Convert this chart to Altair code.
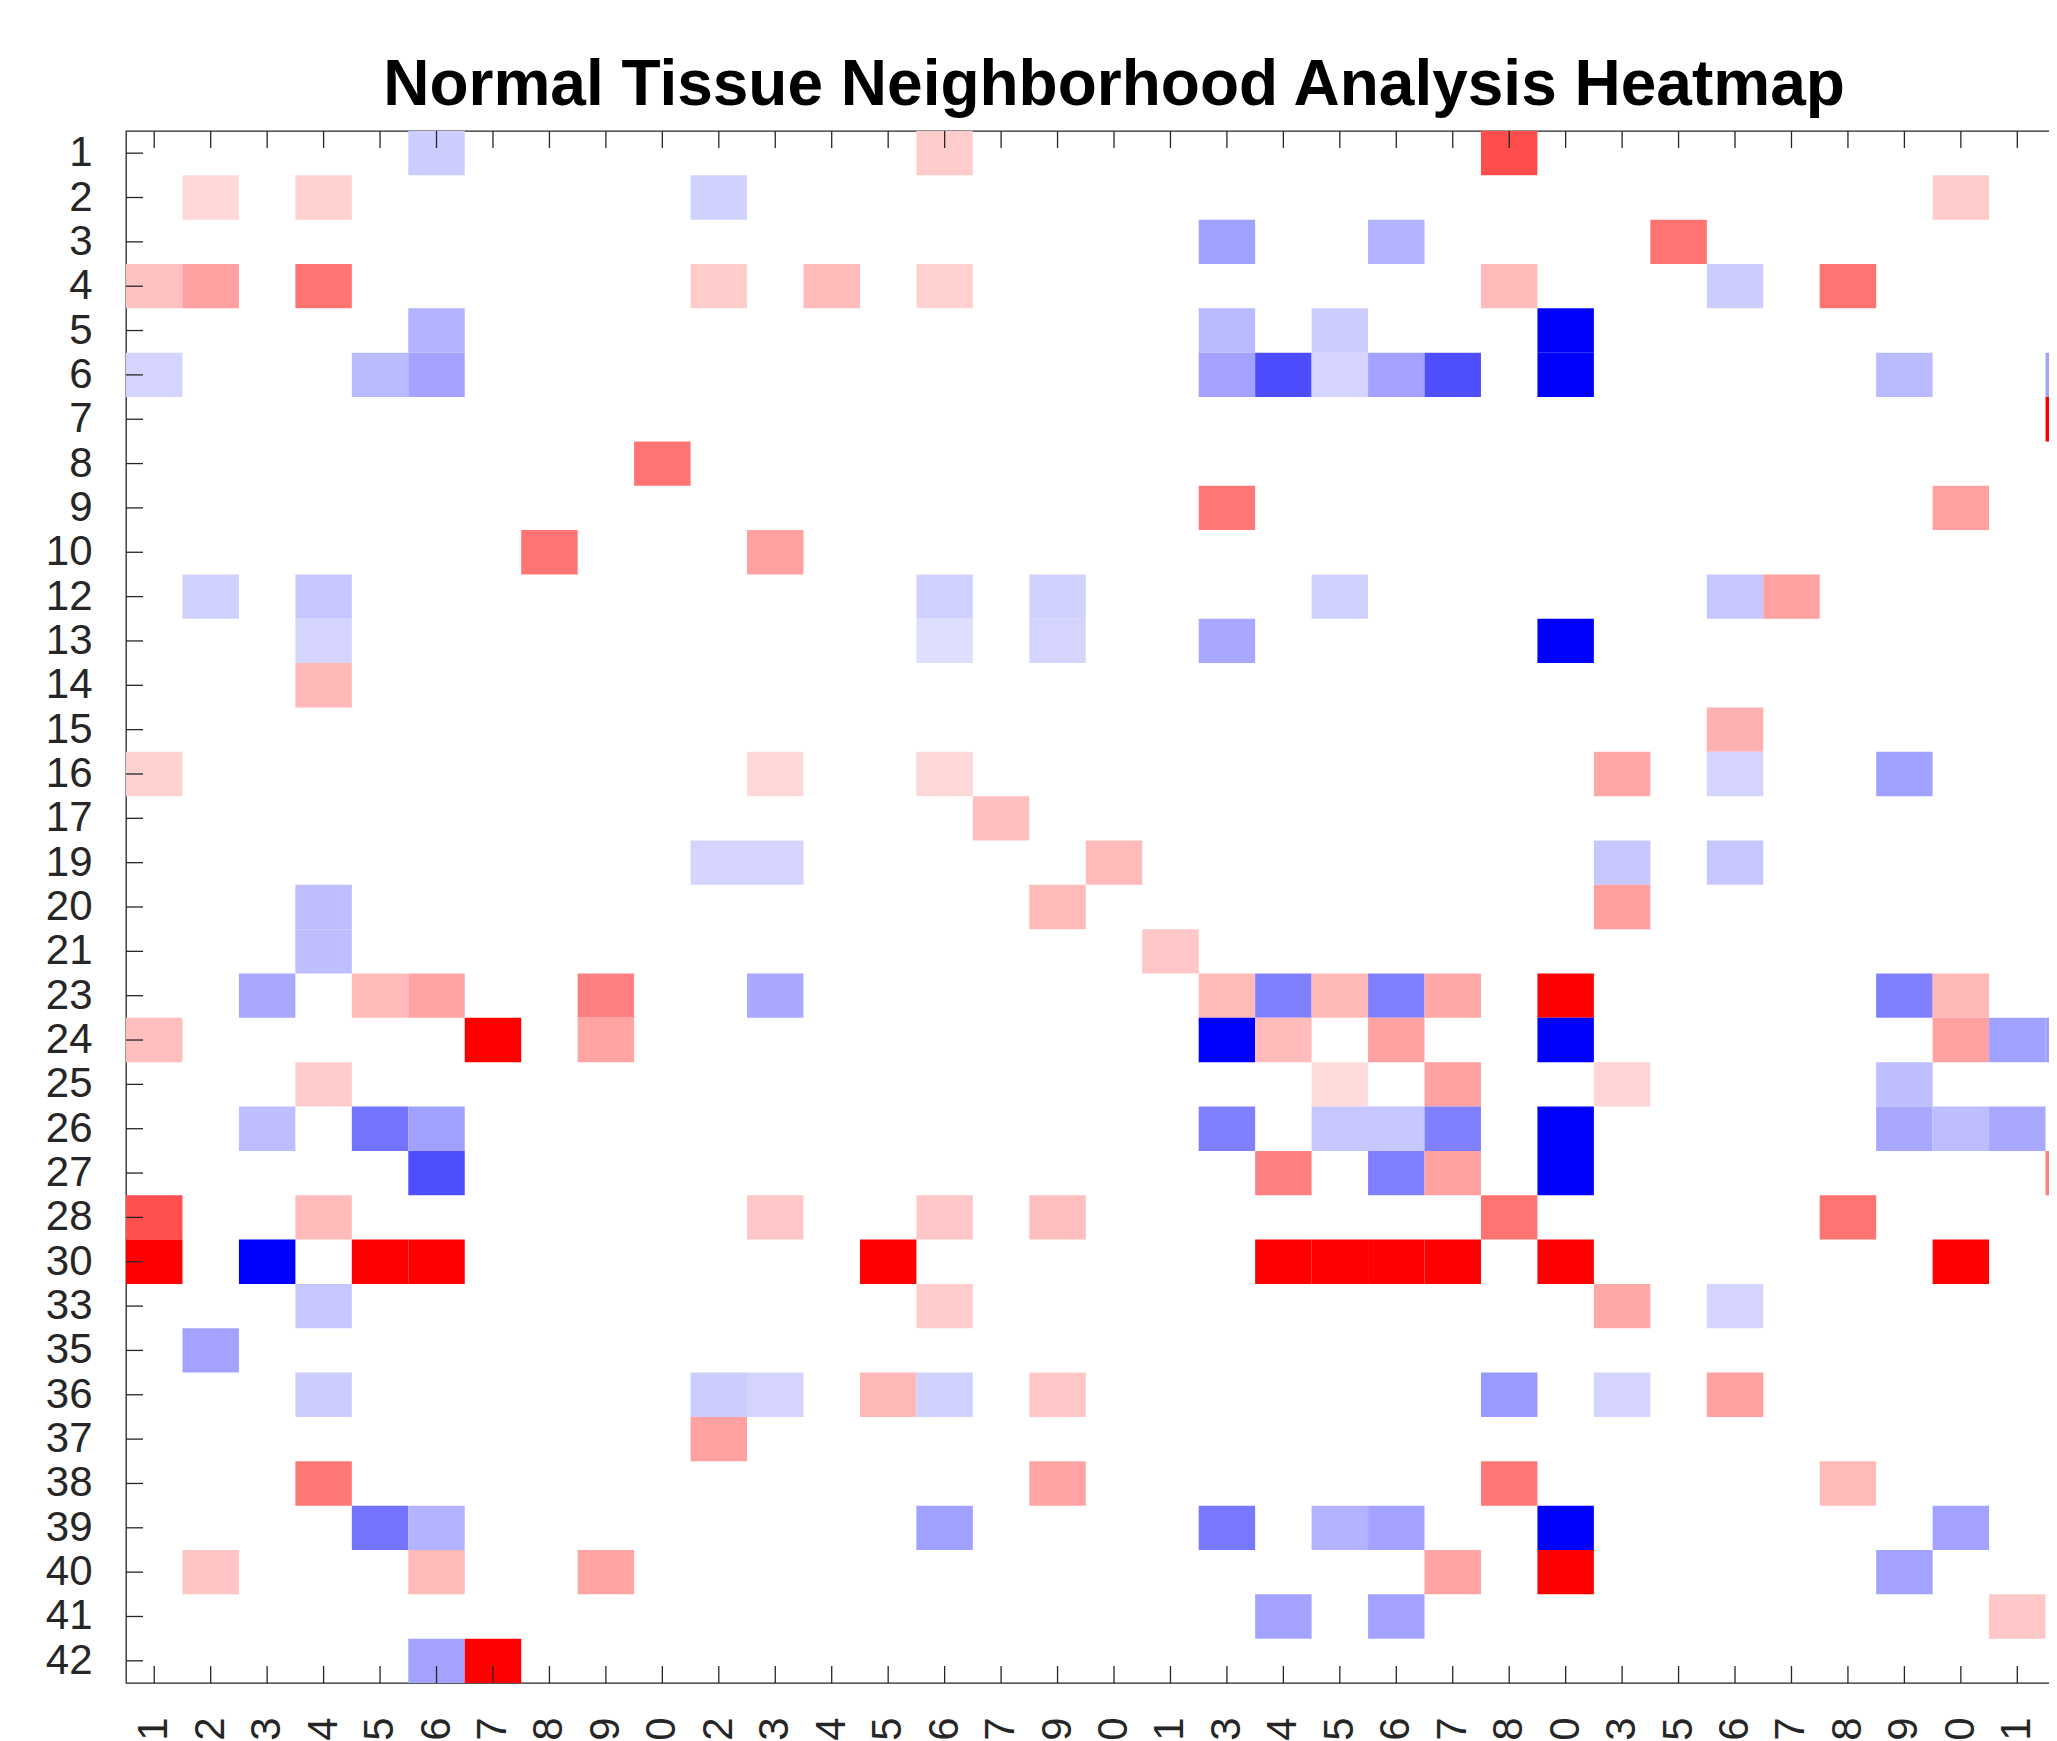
import altair as alt
import pandas as pd

# Category labels (rows top->bottom, columns left->right)
row_labels = ["1", "2", "3", "4", "5", "6", "7", "8", "9", "10", "12", "13", "14", "15",
              "16", "17", "19", "20", "21", "23", "24", "25", "26", "27", "28", "30",
              "33", "35", "36", "37", "38", "39", "40", "41", "42"]
col_labels = list(row_labels)

# Non-zero cells: row label, column label, value (blue < 0 < red)
cell_rows = (["1"] * 3 + ["2"] * 4 + ["3"] * 3 + ["4"] * 9 + ["5"] * 4 + ["6"] * 11 +
             ["7"] + ["8"] + ["9"] * 2 + ["10"] * 2 + ["12"] * 7 + ["13"] * 5 + ["14"] +
             ["15"] + ["16"] * 6 + ["17"] + ["19"] * 5 + ["20"] * 3 + ["21"] * 2 +
             ["23"] * 13 + ["24"] * 10 + ["25"] * 5 + ["26"] * 11 + ["27"] * 6 +
             ["28"] * 7 + ["30"] * 11 + ["33"] * 4 + ["35"] + ["36"] * 9 + ["37"] +
             ["38"] * 4 + ["39"] * 8 + ["40"] * 6 + ["41"] * 3 + ["42"] * 2)

cell_cols = [
    "6", "16", "28",
    "2", "4", "12", "40",
    "23", "26", "35",
    "1", "2", "4", "12", "14", "16", "28", "36", "38",
    "6", "23", "25", "30",
    "1", "5", "6", "23", "24", "25", "26", "27", "30", "39", "42",
    "42",
    "10",
    "23", "40",
    "8", "13",
    "2", "4", "16", "19", "25", "36", "37",
    "4", "16", "19", "23", "30",
    "4",
    "36",
    "1", "13", "16", "33", "36", "39",
    "17",
    "12", "13", "20", "33", "36",
    "4", "19", "33",
    "4", "21",
    "3", "5", "6", "9", "13", "23", "24", "25", "26", "27", "30", "39", "40",
    "1", "7", "9", "23", "24", "26", "30", "40", "41", "42",
    "4", "25", "27", "33", "39",
    "3", "5", "6", "23", "25", "26", "27", "30", "39", "40", "41",
    "6", "24", "26", "27", "30", "42",
    "1", "4", "13", "16", "19", "28", "38",
    "1", "3", "5", "6", "15", "24", "25", "26", "27", "30", "40",
    "4", "16", "33", "36",
    "2",
    "4", "12", "13", "15", "16", "19", "28", "33", "36",
    "12",
    "4", "19", "28", "38",
    "5", "6", "16", "23", "25", "26", "30", "40",
    "2", "6", "9", "27", "30", "39",
    "24", "26", "41",
    "6", "7",
]

cell_values = [
    -0.20, 0.20, 0.70,
    0.15, 0.18, -0.18, 0.20,
    -0.37, -0.30, 0.55,
    0.24, 0.37, 0.55, 0.20, 0.27, 0.18, 0.27, -0.20, 0.55,
    -0.30, -0.27, -0.20, -1.00,
    -0.17, -0.27, -0.36, -0.36, -0.70, -0.17, -0.36, -0.69, -1.00, -0.27, -0.37,
    1.00,
    0.55,
    0.53, 0.37,
    0.55, 0.37,
    -0.18, -0.22, -0.18, -0.18, -0.18, -0.22, 0.37,
    -0.17, -0.13, -0.17, -0.34, -1.00,
    0.28,
    0.31,
    0.18, 0.15, 0.15, 0.35, -0.17, -0.37,
    0.25,
    -0.17, -0.17, 0.27, -0.22, -0.22,
    -0.26, 0.27, 0.38,
    -0.26, 0.22,
    -0.34, 0.27, 0.36, 0.50, -0.34, 0.27, -0.50, 0.28, -0.50, 0.34, 1.00, -0.50, 0.28,
    0.25, 1.00, 0.36, -1.00, 0.27, 0.37, -1.00, 0.37, -0.37, -0.37,
    0.20, 0.14, 0.37, 0.17, -0.26,
    -0.26, -0.55, -0.37, -0.50, -0.22, -0.22, -0.50, -1.00, -0.34, -0.26, -0.34,
    -0.69, 0.50, -0.50, 0.37, -1.00, 0.50,
    0.69, 0.27, 0.22, 0.22, 0.25, 0.55, 0.55,
    1.00, -1.00, 1.00, 1.00, 1.00, 1.00, 1.00, 1.00, 1.00, 1.00, 1.00,
    -0.22, 0.20, 0.34, -0.17,
    -0.36,
    -0.20, -0.20, -0.17, 0.28, -0.18, 0.22, -0.40, -0.17, 0.37,
    0.37,
    0.53, 0.36, 0.53, 0.27,
    -0.55, -0.30, -0.37, -0.53, -0.30, -0.36, -1.00, -0.36,
    0.23, 0.27, 0.36, 0.36, 1.00, -0.36,
    -0.36, -0.36, 0.22,
    -0.36, 1.00,
]

W = 1976
H = 1552
TICK = 17
AXIS_COLOR = "#262626"
FONT = "Liberation Sans"

cells = pd.DataFrame({"row": cell_rows, "col": cell_cols, "value": cell_values})
cols_df = pd.DataFrame({"col": col_labels})
rows_df = pd.DataFrame({"row": row_labels})

x_scale = alt.Scale(domain=col_labels, paddingInner=0, paddingOuter=0)
y_scale = alt.Scale(domain=row_labels, paddingInner=0, paddingOuter=0)


def x_axis():
    return alt.Axis(orient="bottom", title=None, ticks=False, domain=False, grid=False,
                    labelAngle=270, labelAlign="right", labelBaseline="middle",
                    labelFont=FONT, labelFontSize=42, labelPadding=34,
                    labelColor=AXIS_COLOR, labelOverlap=False)


def y_axis():
    return alt.Axis(orient="left", title=None, ticks=False, domain=False, grid=False,
                    labelAlign="right", labelBaseline="middle",
                    labelFont=FONT, labelFontSize=42, labelPadding=34,
                    labelColor=AXIS_COLOR, labelOverlap=False)


heat = alt.Chart(cells).mark_rect().encode(
    x=alt.X("col:N", scale=x_scale, axis=x_axis(), title=None),
    y=alt.Y("row:N", scale=y_scale, axis=y_axis(), title=None),
    color=alt.Color("value:Q",
                    scale=alt.Scale(domain=[-1, 0, 1],
                                    range=["#0000ff", "#ffffff", "#ff0000"],
                                    interpolate="rgb"),
                    legend=None),
)

rule = dict(color=AXIS_COLOR, strokeWidth=1.3)

top_ticks = alt.Chart(cols_df).mark_rule(**rule).encode(
    x=alt.X("col:N", scale=x_scale, axis=x_axis(), title=None),
    y=alt.value(0), y2=alt.value(TICK),
)
bottom_ticks = alt.Chart(cols_df).mark_rule(**rule).encode(
    x=alt.X("col:N", scale=x_scale, axis=x_axis(), title=None),
    y=alt.value(H - TICK), y2=alt.value(H),
)
left_ticks = alt.Chart(rows_df).mark_rule(**rule).encode(
    y=alt.Y("row:N", scale=y_scale, axis=y_axis(), title=None),
    x=alt.value(0), x2=alt.value(TICK),
)
right_ticks = alt.Chart(rows_df).mark_rule(**rule).encode(
    y=alt.Y("row:N", scale=y_scale, axis=y_axis(), title=None),
    x=alt.value(W - TICK), x2=alt.value(W),
)

chart = alt.layer(heat, top_ticks, bottom_ticks, left_ticks, right_ticks).properties(
    width=W,
    height=H,
    title=alt.TitleParams(text="Normal Tissue Neighborhood Analysis Heatmap",
                          font=FONT, fontSize=64, fontWeight="bold",
                          anchor="middle", offset=12, color="black"),
    autosize=alt.AutoSizeParams(type="none"),
    padding={"left": 118, "top": 123, "right": -53, "bottom": 95},
).configure_view(
    stroke=AXIS_COLOR, strokeWidth=1.3
)

chart.save("out.html", embed_options={"renderer": "svg", "actions": False})
